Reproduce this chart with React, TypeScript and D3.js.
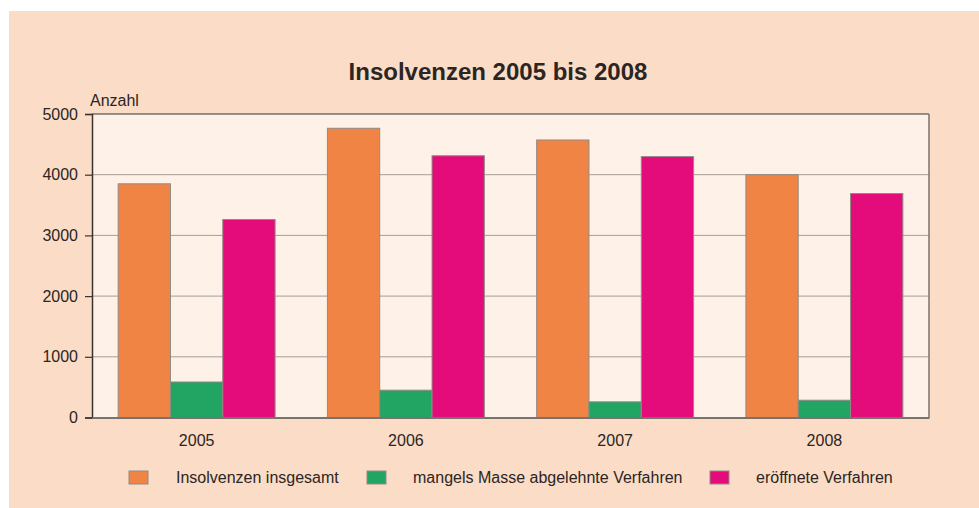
import React, { useEffect, useRef } from 'react';
import * as d3 from 'd3';

const years = ['2005', '2006', '2007', '2008'];
const seriesNames = ['Insolvenzen insgesamt', 'mangels Masse abgelehnte Verfahren', 'eröffnete Verfahren'];
const insgesamt = [3850, 4765, 4572, 4000];
const abgelehnt = [585, 450, 258, 285];
const eroeffnet = [3262, 4312, 4298, 3690];
const yTicks = [0, 1000, 2000, 3000, 4000, 5000];
const colors = ['#ef8445', '#22a463', '#e40c7a'];

const App = () => {
  const ref = useRef<SVGSVGElement>(null);

  useEffect(() => {
    const W = 979;
    const H = 508;
    const margin = { top: 114, right: 50, bottom: 90.5, left: 92 };
    const width = W - margin.left - margin.right;
    const height = H - margin.top - margin.bottom;
    const font = '"Liberation Sans", Arial, sans-serif';
    const fs = 16;

    const svg = d3.select(ref.current).attr('width', W).attr('height', H);
    svg.selectAll('*').remove();

    svg.append('rect').attr('x', 9).attr('y', 11).attr('width', W - 9).attr('height', H - 11).attr('fill', '#fbdcc6');

    svg
      .append('text')
      .attr('x', 498)
      .attr('y', 80)
      .attr('text-anchor', 'middle')
      .attr('font-family', font)
      .attr('font-weight', 'bold')
      .attr('font-size', 24)
      .attr('fill', '#2b2523')
      .text('Insolvenzen 2005 bis 2008');

    const g = svg.append('g').attr('transform', `translate(${margin.left},${margin.top})`);

    g.append('rect').attr('width', width).attr('height', height).attr('fill', '#fef2e8');

    const x0 = d3.scaleBand().domain(years).range([0, width]).paddingInner(0.25).paddingOuter(0.125);
    const x1 = d3.scaleBand().domain(seriesNames).range([0, x0.bandwidth()]);
    const y = d3.scaleLinear().domain([0, 5000]).range([height, 0]);

    // grid
    g.selectAll('.grid')
      .data(yTicks.filter(t => t > 0 && t < 5000))
      .enter()
      .append('line')
      .attr('x1', 0)
      .attr('x2', width)
      .attr('y1', d => y(d))
      .attr('y2', d => y(d))
      .attr('stroke', '#a69d95')
      .attr('stroke-width', 1);

    g.append('line').attr('x1', 0).attr('x2', width).attr('y1', 0).attr('y2', 0).attr('stroke', '#3a3330').attr('stroke-width', 1.2);
    g.append('line').attr('x1', width).attr('x2', width).attr('y1', 0).attr('y2', height).attr('stroke', '#7a726c').attr('stroke-width', 1.5);

    const data = years.map((yr, i) => ({
      year: yr,
      values: [insgesamt[i], abgelehnt[i], eroeffnet[i]]
    }));

    const groups = g
      .selectAll('.grp')
      .data(data)
      .enter()
      .append('g')
      .attr('transform', d => `translate(${x0(d.year)},0)`);

    groups
      .selectAll('rect')
      .data(d => d.values.map((v, k) => ({ name: seriesNames[k], v, k })))
      .enter()
      .append('rect')
      .attr('x', d => x1(d.name)!)
      .attr('y', d => y(d.v))
      .attr('width', x1.bandwidth())
      .attr('height', d => height - y(d.v))
      .attr('fill', d => colors[d.k])
      .attr('stroke', '#928a84')
      .attr('stroke-width', 1);

    // y axis
    const yAxis = g.append('g').call(d3.axisLeft(y).tickValues(yTicks).tickSize(7).tickFormat(d3.format('d')));
    yAxis.select('.domain').attr('stroke', '#3a3330').attr('stroke-width', 1.5);
    yAxis.selectAll('.tick line').attr('stroke', '#3a3330').attr('stroke-width', 1.2);
    yAxis
      .selectAll('.tick text')
      .attr('font-family', font)
      .attr('font-size', fs)
      .attr('fill', '#2b2523')
      .attr('x', -14);

    // x axis
    const xAxis = g
      .append('g')
      .attr('transform', `translate(0,${height})`)
      .call(d3.axisBottom(x0).tickSize(0));
    xAxis.select('.domain').attr('stroke', '#7a726c').attr('stroke-width', 2);
    xAxis
      .selectAll('.tick text')
      .attr('font-family', font)
      .attr('font-size', fs)
      .attr('fill', '#2b2523')
      .attr('dy', 0)
      .attr('y', 28);

    g.append('text')
      .attr('x', -2)
      .attr('y', -8)
      .attr('font-family', font)
      .attr('font-size', fs)
      .attr('fill', '#2b2523')
      .text('Anzahl');

    // legend
    const legendX = [129, 367, 710];
    const leg = svg
      .selectAll('.leg')
      .data(seriesNames)
      .enter()
      .append('g')
      .attr('transform', (d, i) => `translate(${legendX[i]},471)`);
    leg
      .append('rect')
      .attr('width', 19)
      .attr('height', 13)
      .attr('fill', (d, i) => colors[i])
      .attr('stroke', '#928a84')
      .attr('stroke-width', 1);
    leg
      .append('text')
      .attr('x', (d, i) => (i === 0 ? 47 : 46))
      .attr('y', 12)
      .attr('font-family', font)
      .attr('font-size', fs)
      .attr('fill', '#2b2523')
      .text(d => d);
  }, []);

  return (
    <div style={{ position: 'absolute', left: 0, top: 0, background: '#fff' }}>
      <svg ref={ref} style={{ display: 'block' }}></svg>
    </div>
  );
};

export default App;
